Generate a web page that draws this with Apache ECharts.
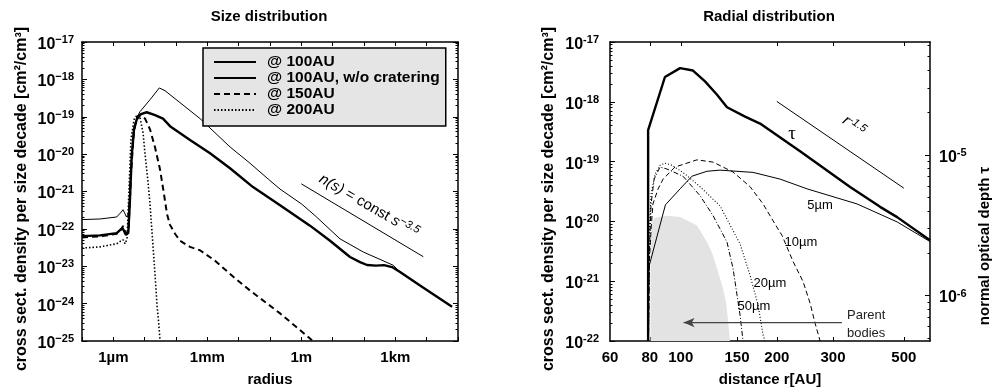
<!DOCTYPE html>
<html><head><meta charset="utf-8">
<script src="https://cdn.jsdelivr.net/npm/echarts@6/dist/echarts.min.js"></script>
<style>html,body{margin:0;padding:0;background:#fff}#c{width:992px;height:392px}</style>
</head><body><div id="c"></div>
<script>
// ================= DATA =================
// --- Size distribution: radius [m] vs cross-section density per size decade [cm^2/cm^3]
const r100 = [1e-7, 3.76e-7, 1.28e-6, 1.96e-6, 2.54e-6, 3.0e-6, 3.4e-6, 3.86e-6, 4.57e-6, 5.57e-6, 7.6e-6, 1.16e-5, 2.14e-5, 3.85e-5, 6.44e-5, 2.8e-4, 1.22e-3, 5.3e-3, 0.0287, 0.209, 1.89, 8.24, 35.8, 74.6, 125, 242, 436, 785, 1413, 6140, 64600];
const v100 = [6.4e-23, 6.7e-23, 7.7e-23, 1.06e-22, 6.9e-23, 7.8e-23, 6.3e-22, 8.9e-21, 4.6e-20, 8.4e-20, 1.18e-19, 1.32e-19, 1.11e-19, 8.9e-20, 5.6e-20, 2.4e-20, 1.05e-20, 4.2e-21, 1.31e-21, 4.3e-22, 1.22e-22, 4.8e-23, 1.77e-23, 1.29e-23, 1.08e-23, 1.04e-23, 1.07e-23, 9.5e-24, 7.0e-24, 3.05e-24, 8.3e-25];

const rNoCrat = [1e-7, 3.76e-7, 1.28e-6, 1.69e-6, 2.04e-6, 2.63e-6, 3.05e-6, 3.66e-6, 4.25e-6, 5.57e-6, 7.1e-6, 1.48e-5, 2.93e-5, 4.46e-5, 1.34e-4, 5.83e-4, 5.3e-3, 0.023, 0.0883, 0.209, 1.03, 2.74, 17.2, 95.3, 863, 1413, 6140, 64600];
const vNoCrat = [1.77e-22, 1.84e-22, 2.08e-22, 2.67e-22, 3.26e-22, 2.08e-22, 2.67e-22, 3.9e-21, 2.5e-20, 9.5e-20, 1.37e-19, 2.86e-19, 5.9e-19, 4.98e-19, 2.39e-19, 8.95e-20, 1.56e-20, 5.7e-21, 2.14e-21, 1.16e-21, 4.6e-22, 2.26e-22, 5.4e-23, 2.4e-23, 1.06e-23, 7.0e-24, 3.05e-24, 8.3e-25];

const r150 = [1e-7, 3.76e-7, 1.28e-6, 1.76e-6, 2.04e-6, 2.54e-6, 3.05e-6, 3.66e-6, 4.57e-6, 5.7e-6, 7.1e-6, 1.03e-5, 1.48e-5, 2.14e-5, 3.09e-5, 4.14e-5, 5.16e-5, 6.44e-5, 9.3e-5, 1.34e-4, 2.8e-4, 5.83e-4, 1.76e-3, 6.6e-3, 0.023, 0.209, 2.19];
const v150 = [5.9e-23, 6.3e-23, 7.4e-23, 9.4e-23, 1.2e-22, 7.4e-23, 8.8e-23, 2.9e-21, 4.6e-20, 9.5e-20, 1.11e-19, 8.9e-20, 4.6e-20, 1.52e-20, 3.9e-21, 8.5e-22, 2.5e-22, 1.28e-22, 7.4e-23, 4.8e-23, 3.3e-23, 2.68e-23, 1.41e-23, 5.3e-24, 2.24e-24, 5.5e-25, 1.05e-25];

const r200 = [1e-7, 3.76e-7, 1.28e-6, 1.76e-6, 2.04e-6, 2.36e-6, 2.74e-6, 3.16e-6, 3.66e-6, 4.57e-6, 5.9e-6, 7.1e-6, 8.85e-6, 1.03e-5, 1.28e-5, 1.48e-5, 1.78e-5, 2.14e-5, 2.48e-5, 2.77e-5, 3.09e-5];
const v200 = [3.07e-23, 3.3e-23, 4.0e-23, 4.8e-23, 5.1e-23, 4.0e-23, 5.4e-23, 1.16e-21, 2.5e-20, 8.4e-20, 1.15e-19, 9.5e-20, 3.8e-20, 9.9e-21, 1.78e-21, 4.6e-22, 5.4e-23, 6.0e-24, 8.9e-25, 3.4e-25, 1.05e-25];

// power-law guide n(s) = const s^-3.5
const nsGuideR = [1.0, 7800];
const nsGuideV = [1.6e-21, 1.8e-23];

const sizeNames = ['@ 100AU', '@ 100AU, w/o cratering', '@ 150AU', '@ 200AU'];
const sizeTickValues = [1e-6, 1e-3, 1, 1e3];
const sizeTickLabels = ['1\u00b5m', '1mm', '1m', '1km'];

// --- Radial distribution: distance [AU] vs cross-section density [cm^2/cm^3]
const rad5R = [79, 79.2, 89.5, 99.5, 108.4, 120.9, 132.7, 168.5, 204.7, 248.8, 356.8, 476.4, 604];
const rad5V = [1e-22, 1.63e-21, 1.89e-20, 3.5e-20, 5.7e-20, 6.9e-20, 7.2e-20, 6.6e-20, 5.1e-20, 3.5e-20, 1.96e-20, 9.8e-21, 4.6e-21];

const rad10R = [79.2, 79.8, 80.7, 81.8, 84.9, 88.0, 95.9, 112.4, 126.2, 145.8, 164.9, 181.1, 194.7, 207.7, 224.9, 241.6, 254.2, 263.5, 273.3];
const rad10V = [1e-22, 2.4e-21, 7.5e-21, 1.96e-20, 3.5e-20, 5.1e-20, 8.1e-20, 1.07e-19, 9.8e-20, 6.7e-20, 3.8e-20, 1.96e-20, 1.02e-20, 5.8e-21, 2.13e-21, 9.9e-22, 4.3e-22, 1.99e-22, 1e-22];

const rad20R = [78.9, 79.5, 80.7, 83.1, 86.1, 89.2, 93.9, 103.1, 114.9, 132.7, 153.4, 164.9, 174.7, 181.1, 183.7];
const rad20V = [1e-22, 5.1e-21, 2.88e-20, 6.2e-20, 8.7e-20, 9.4e-20, 8.7e-20, 6.2e-20, 3.8e-20, 1.82e-20, 4.2e-21, 1.25e-21, 3.96e-22, 1.26e-22, 1e-22];

const rad50R = [79.2, 79.8, 80.7, 82.5, 86.1, 90.6, 101.6, 114.9, 126.2, 139.6, 145.8, 150.1, 153.4, 156.7];
const rad50V = [1e-22, 3.5e-21, 1.96e-20, 5.1e-20, 8.1e-20, 7.5e-20, 5.7e-20, 2.69e-20, 1.25e-20, 4.5e-21, 1.63e-21, 5.8e-22, 2.7e-22, 1e-22];

const parentR = [80.4, 83.1, 90.6, 99.5, 106.9, 112.4, 117.4, 121.7, 126.2, 129.9, 135.6, 138.7, 140.7, 142.6];
const parentV = [9.1e-21, 1.15e-20, 1.24e-20, 1.19e-20, 9.8e-21, 8.5e-21, 5.8e-21, 4.2e-21, 2.7e-21, 1.63e-21, 7.6e-22, 4.3e-22, 2.15e-22, 1e-22];

// normal optical depth tau (right axis)
const tauR = [79, 79, 89.2, 99.5, 109.2, 119.1, 129.7, 139.6, 159, 177.2, 236.5, 339.4, 421.3, 476.4, 604];
const tauV = [4.8e-7, 1.5e-5, 3.58e-5, 4.14e-5, 3.98e-5, 3.33e-5, 2.69e-5, 2.18e-5, 1.87e-5, 1.67e-5, 1.06e-5, 5.91e-6, 4.27e-6, 3.61e-6, 2.47e-6];

// r^-1.5 guide (tau units)
const rGuideR = [200, 500];
const rGuideTau = [2.4e-5, 5.8e-6];

// "Parent bodies" arrow (tail, head)
const arrowR = [320, 102];
const arrowV = [2.03e-22, 2.03e-22];

const radialTickValues = [60, 80, 100, 150, 200, 300, 500];
const radialTopTicks = [80, 100, 200, 300, 500];
const tauTickValues = [1e-6, 1e-5];

// axis extents
const sizeXRange = [1e-7, 1e5], sizeYRange = [1e-25, 1e-17];
const radXRange = [60, 604], radYRange = [1e-22, 1e-17], tauRange = [4.75e-7, 6.35e-5];

// ================= CHART =================
const FONT = "'Liberation Sans', Arial, Helvetica, sans-serif";
const L = Math.log10;
const pts = (xs, ys) => xs.map((x, i) => [L(x), L(ys[i])]);
function minorLogs(lo, hi) {
  const out = [];
  for (let n = Math.floor(lo) - 1; n <= Math.ceil(hi); n++)
    for (let k = 2; k <= 9; k++) { const v = n + L(k); if (v > lo && v < hi) out.push(v); }
  return out;
}
const decades = (lo, hi) => { const o = []; for (let n = Math.ceil(lo - 1e-9); n <= hi + 1e-9; n++) o.push(n); return o; };

function mkAxis(o) {
  return {
    type: 'value', gridIndex: o.grid, position: o.pos, min: o.min, max: o.max,
    splitLine: {show: false}, splitArea: {show: false}, silent: true,
    axisLine: {show: o.line !== false, onZero: false, lineStyle: {color: '#000', width: 1.5}},
    axisTick: {show: true, inside: true, length: o.tickLen || 4, customValues: o.ticks,
      lineStyle: {color: '#000', width: 1}},
    axisLabel: o.label ? Object.assign({show: true, color: '#000', fontFamily: FONT, fontWeight: 'bold',
      showMinLabel: true, showMaxLabel: true}, o.label) : {show: false},
    name: o.name || '', nameLocation: 'middle', nameGap: o.nameGap || 0,
    nameTextStyle: {fontSize: 15, fontWeight: 'bold', fontFamily: FONT, color: '#000'}
  };
}
function supLabelM(minus, margin, custom) {
  return {
    fontSize: 16, lineHeight: 20, margin, padding: [5, 0, 0, 0], customValues: custom,
    formatter: v => '10{s|' + minus + Math.abs(Math.round(v)) + '}',
    rich: {s: {fontSize: 11, fontWeight: 'bold', fontFamily: FONT, color: '#000', lineHeight: 6, verticalAlign: 'top'}}
  };
}

const sX = [L(sizeXRange[0]), L(sizeXRange[1])], sY = [L(sizeYRange[0]), L(sizeYRange[1])];
const rX = [L(radXRange[0]), L(radXRange[1])], rY = [L(radYRange[0]), L(radYRange[1])], tY = [L(tauRange[0]), L(tauRange[1])];

const xAxes = [
  mkAxis({grid: 0, pos: 'bottom', min: sX[0], max: sX[1], ticks: decades(sX[0], sX[1]),
    label: {fontSize: 15, margin: 9, customValues: sizeTickValues.map(L),
      formatter: v => sizeTickLabels[sizeTickValues.findIndex(t => Math.abs(L(t) - v) < 1e-6)] || ''},
    name: 'radius', nameGap: 31}),
  mkAxis({grid: 0, pos: 'top', min: sX[0], max: sX[1], ticks: decades(sX[0], sX[1])}),
  mkAxis({grid: 1, pos: 'bottom', min: rX[0], max: rX[1], ticks: radialTickValues.slice(1).map(L),
    label: {fontSize: 15, margin: 9, customValues: radialTickValues.map(L), formatter: v => String(Math.round(Math.pow(10, v)))},
    name: 'distance r[AU]', nameGap: 31}),
  mkAxis({grid: 1, pos: 'top', min: rX[0], max: rX[1], ticks: radialTopTicks.map(L)})
];
const yAxes = [
  mkAxis({grid: 0, pos: 'left', min: sY[0], max: sY[1], ticks: decades(sY[0], sY[1]), tickLen: 5,
    label: supLabelM('\u2212', 8, decades(sY[0], sY[1]))}),
  mkAxis({grid: 0, pos: 'left', min: sY[0], max: sY[1], ticks: minorLogs(sY[0], sY[1]), tickLen: 2.5, line: false}),
  mkAxis({grid: 0, pos: 'right', min: sY[0], max: sY[1], ticks: decades(sY[0], sY[1]), tickLen: 5}),
  mkAxis({grid: 0, pos: 'right', min: sY[0], max: sY[1], ticks: minorLogs(sY[0], sY[1]), tickLen: 2.5, line: false}),
  mkAxis({grid: 1, pos: 'left', min: rY[0], max: rY[1], ticks: decades(rY[0], rY[1]), tickLen: 5,
    label: supLabelM('-', 11, decades(rY[0], rY[1]))}),
  mkAxis({grid: 1, pos: 'left', min: rY[0], max: rY[1], ticks: minorLogs(rY[0], rY[1]), tickLen: 2.5, line: false}),
  mkAxis({grid: 1, pos: 'right', min: tY[0], max: tY[1], ticks: tauTickValues.map(L), tickLen: 5,
    label: supLabelM('-', 9, tauTickValues.map(L))}),
  mkAxis({grid: 1, pos: 'right', min: tY[0], max: tY[1], ticks: minorLogs(tY[0], tY[1]), tickLen: 2.5, line: false})
];

function lineSeries(name, data, xi, yi, width, type, extra) {
  return Object.assign({
    type: 'line', name, data, xAxisIndex: xi, yAxisIndex: yi, symbol: 'none', showSymbol: false,
    silent: true, clip: true, color: '#000',
    lineStyle: {color: '#000', width, type: type || 'solid', cap: 'butt'}
  }, extra || {});
}

const series = [
  lineSeries(sizeNames[0], pts(r100, v100), 0, 0, 2.4),
  lineSeries(sizeNames[1], pts(rNoCrat, vNoCrat), 0, 0, 1),
  lineSeries(sizeNames[2], pts(r150, v150), 0, 0, 2, [6, 4]),
  lineSeries(sizeNames[3], pts(r200, v200), 0, 0, 1.6, [1.5, 2]),
  lineSeries('nsGuide', pts(nsGuideR, nsGuideV), 0, 0, 1),
  // radial panel
  lineSeries('Parent bodies', pts(parentR, parentV), 2, 4, 0, 'solid',
    {areaStyle: {color: '#e3e3e3', opacity: 1, origin: 'start'}, lineStyle: {width: 0, color: '#e3e3e3'}, z: 1}),
  lineSeries('5um', pts(rad5R, rad5V), 2, 4, 1),
  lineSeries('10um', pts(rad10R, rad10V), 2, 4, 1, [5, 3]),
  lineSeries('20um', pts(rad20R, rad20V), 2, 4, 1.1, [1, 2]),
  lineSeries('50um', pts(rad50R, rad50V), 2, 4, 1, [5, 2, 1, 2]),
  lineSeries('tau', pts(tauR, tauV), 2, 6, 2.4),
  lineSeries('rGuide', pts(rGuideR, rGuideTau), 2, 6, 1),
  lineSeries('arrow', pts(arrowR, arrowV).map((p, i) => i === 1
      ? {value: p, symbol: 'arrow', symbolSize: [7, 11], symbolRotate: 90}
      : {value: p, symbol: 'none'}), 2, 4, 1,
    'solid', {showSymbol: true, symbol: 'none', color: '#444', lineStyle: {color: '#444', width: 1.2},
      itemStyle: {color: '#444'}})
];

const rot = a => a * Math.PI / 180;
const annot = (x, y, text, size, extra, rotation) => ({type: 'text', x, y, silent: true, rotation: rotation || 0,
  style: Object.assign({text, fontSize: size, fontFamily: FONT, fill: '#000', align: 'center', verticalAlign: 'middle'}, extra || {})});
const italicRich = {
  i: {fontStyle: 'italic', fontSize: 15, fontFamily: FONT, fill: '#000', lineHeight: 18},
  s: {fontStyle: 'italic', fontSize: 11, fontFamily: FONT, fill: '#000', lineHeight: 6, verticalAlign: 'top'}
};
const yName = 'cross sect. density per size decade [cm\u00b2/cm\u00b3]';
const graphic = [
  annot(22, 199, yName, 16, {fontWeight: 'bold'}, rot(90)),
  annot(549, 199, yName, 16, {fontWeight: 'bold'}, rot(90)),
  annot(985, 246, 'normal optical depth \u03c4', 15, {fontWeight: 'bold'}, rot(90)),
  annot(369, 206, '{i|n(s)} = const {i|s}{s|\u22123.5}', 15, {rich: italicRich}, rot(-30)),
  annot(854, 126, '{i|r}{s|-1.5}', 15, {rich: italicRich}, rot(-35)),
  annot(792, 134, '\u03c4', 19, {fontFamily: "'Liberation Serif', 'DejaVu Serif', serif"}),
  annot(820, 205, '5\u00b5m', 13),
  annot(801, 242, '10\u00b5m', 13),
  annot(770, 283, '20\u00b5m', 13),
  annot(754, 306, '50\u00b5m', 13),
  annot(847, 324, 'Parent\nbodies', 13, {align: 'left', lineHeight: 18, fill: '#222'})
];

const chart = echarts.init(document.getElementById('c'), null, {renderer: 'canvas'});
chart.setOption({
  animation: false,
  backgroundColor: '#fff',
  textStyle: {fontFamily: FONT},
  title: [
    {text: 'Size distribution', left: 269, top: 9, padding: 0, textAlign: 'center',
      textStyle: {fontSize: 15, fontWeight: 'bold', fontFamily: FONT, color: '#000'}},
    {text: 'Radial distribution', left: 769, top: 9, padding: 0, textAlign: 'center',
      textStyle: {fontSize: 15, fontWeight: 'bold', fontFamily: FONT, color: '#000'}}
  ],
  legend: {
    data: sizeNames, left: 203, top: 48, orient: 'vertical', itemWidth: 42, itemHeight: 14, itemGap: 0,
    padding: [6, 6, 8, 10], backgroundColor: '#e5e5e5', borderColor: '#000', borderWidth: 1.5, borderRadius: 0,
    selectedMode: false,
    itemStyle: {opacity: 0, borderWidth: 0},
    textStyle: {fontSize: 15.5, fontWeight: 'bold', color: '#000', fontFamily: FONT, lineHeight: 15, padding: [0, 0, 0, 6]}
  },
  grid: [
    {left: 82, top: 42, width: 376, height: 301, containLabel: false},
    {left: 610, top: 42, width: 320, height: 301, containLabel: false}
  ],
  xAxis: xAxes,
  yAxis: yAxes,
  series,
  graphic
});
</script>
</body></html>
